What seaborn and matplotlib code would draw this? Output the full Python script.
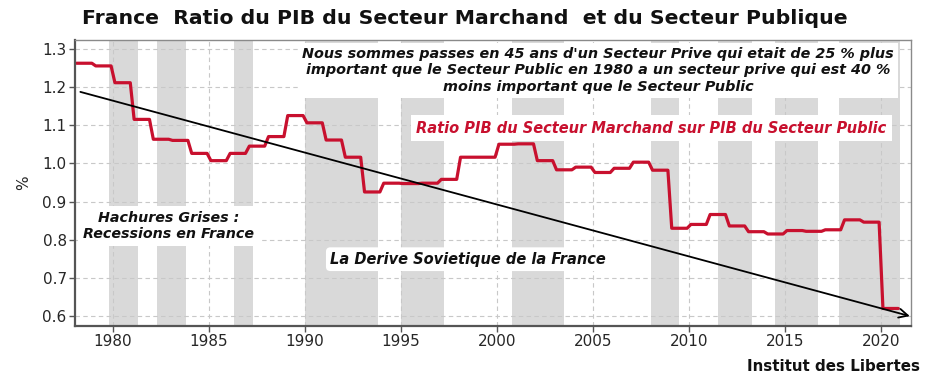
import numpy as np
import pandas as pd
import matplotlib
matplotlib.use("Agg")
import matplotlib.pyplot as plt
import seaborn as sns

# ---- data ----
years = list(range(1978, 2021))
ratio = [1.262, 1.255, 1.211, 1.115, 1.063, 1.060, 1.026, 1.007, 1.026, 1.045,
         1.070, 1.125, 1.106, 1.061, 1.016, 0.925, 0.948, 0.947, 0.948, 0.958,
         1.016, 1.016, 1.050, 1.051, 1.007, 0.983, 0.990, 0.976, 0.987, 1.003,
         0.982, 0.830, 0.840, 0.866, 0.836, 0.821, 0.815, 0.824, 0.822, 0.826,
         0.852, 0.846, 0.620]
recessions = [(1979.8, 1981.3), (1982.3, 1983.8), (1986.3, 1987.3), (1990.0, 1993.8),
              (1995.0, 1997.25), (2000.8, 2003.5), (2008.0, 2009.5), (2011.5, 2013.3),
              (2014.5, 2016.7), (2017.8, 2021.0)]
trend_years = [1978.3, 2021.5]
trend_values = [1.187, 0.600]
x_ticks = [1980, 1985, 1990, 1995, 2000, 2005, 2010, 2015, 2020]
y_ticks = [0.6, 0.7, 0.8, 0.9, 1.0, 1.1, 1.2, 1.3]

title = "France  Ratio du PIB du Secteur Marchand  et du Secteur Publique"
note_top = ("Nous sommes passes en 45 ans d'un Secteur Prive qui etait de 25 % plus\n"
            "important que le Secteur Public en 1980 a un secteur prive qui est 40 %\n"
            "moins important que le Secteur Public")
note_ratio = "Ratio PIB du Secteur Marchand sur PIB du Secteur Public"
note_rec = "Hachures Grises :\nRecessions en France"
note_trend = "La Derive Sovietique de la France"
source = "Institut des Libertes"

# ---- build long-form frame (each annual value held flat across its year) ----
yr = np.asarray(years, dtype=float)
df = pd.DataFrame({
    "x": np.column_stack([yr + 0.1, yr + 0.9]).ravel(),
    "y": np.repeat(np.asarray(ratio), 2),
})

sns.set_theme(style="white")
plt.rcParams["font.family"] = ["DejaVu Sans"]

fig = plt.figure(figsize=(9.35, 3.87), dpi=100)
ax = fig.add_axes([0.0802, 0.1576, 0.8941, 0.739])

RED = "#C8102E"
GREY = "#D9D9D9"

for a, b in recessions:
    ax.axvspan(a, b, color=GREY, lw=0, zorder=0.1)

sns.lineplot(data=df, x="x", y="y", ax=ax, color=RED, lw=2.3,
             sort=False, estimator=None, zorder=2)

ax.annotate("", xy=(trend_years[1], trend_values[1]),
            xytext=(trend_years[0], trend_values[0]),
            arrowprops=dict(arrowstyle="->", color="black", lw=1.3,
                            mutation_scale=16, shrinkA=0, shrinkB=0),
            zorder=2.2)

ax.set_xlim(1978.02, 2021.56)
ax.set_ylim(0.5741, 1.3228)
ax.set_xticks(x_ticks)
ax.set_yticks(y_ticks)
ax.set_yticklabels([f"{v:.1f}" for v in y_ticks])
ax.set_axisbelow(True)
ax.grid(True, ls=(0, (4, 3)), color="#C8C8C8", lw=0.8)
ax.tick_params(axis="both", labelsize=11, direction="out", length=4, width=1,
               color="#555555", left=True, bottom=True, pad=2)
ax.set_xlabel("")
ax.set_ylabel("%", fontsize=11, labelpad=8)

for s in ["left", "bottom"]:
    ax.spines[s].set_color("#555555")
    ax.spines[s].set_linewidth(1.6)
for s in ["top", "right"]:
    ax.spines[s].set_color("#8A8A8A")
    ax.spines[s].set_linewidth(1.0)

box = dict(facecolor="white", edgecolor="none", pad=4)
ax.text(2005.26, 1.243, note_top, ha="center", va="center", fontsize=10.4,
        style="italic", fontweight="bold", color="#111111", linespacing=1.22,
        zorder=3, bbox=dict(facecolor="white", edgecolor="none", pad=3))
ax.text(2008.05, 1.0916, note_ratio, ha="center", va="center", fontsize=10.55,
        style="italic", fontweight="bold", color=RED, zorder=3, bbox=box)
ax.text(1982.9, 0.836, note_rec, ha="center", va="center", fontsize=10.3,
        style="italic", fontweight="bold", color="#111111", linespacing=1.1,
        zorder=3, bbox=box)
ax.text(1998.5, 0.749, note_trend, ha="center", va="center", fontsize=10.5,
        style="italic", fontweight="bold", color="#111111", zorder=3,
        bbox=dict(boxstyle="round,pad=0.3", facecolor="white", edgecolor="none"))

fig.text(0.497, 0.953, title, ha="center", va="center", fontsize=14.7,
         fontweight="bold", color="#111111")
fig.text(0.984, 0.054, source, ha="right", va="center", fontsize=10.9,
         fontweight="bold", color="#111111")

fig.savefig("out.png", dpi=100)
